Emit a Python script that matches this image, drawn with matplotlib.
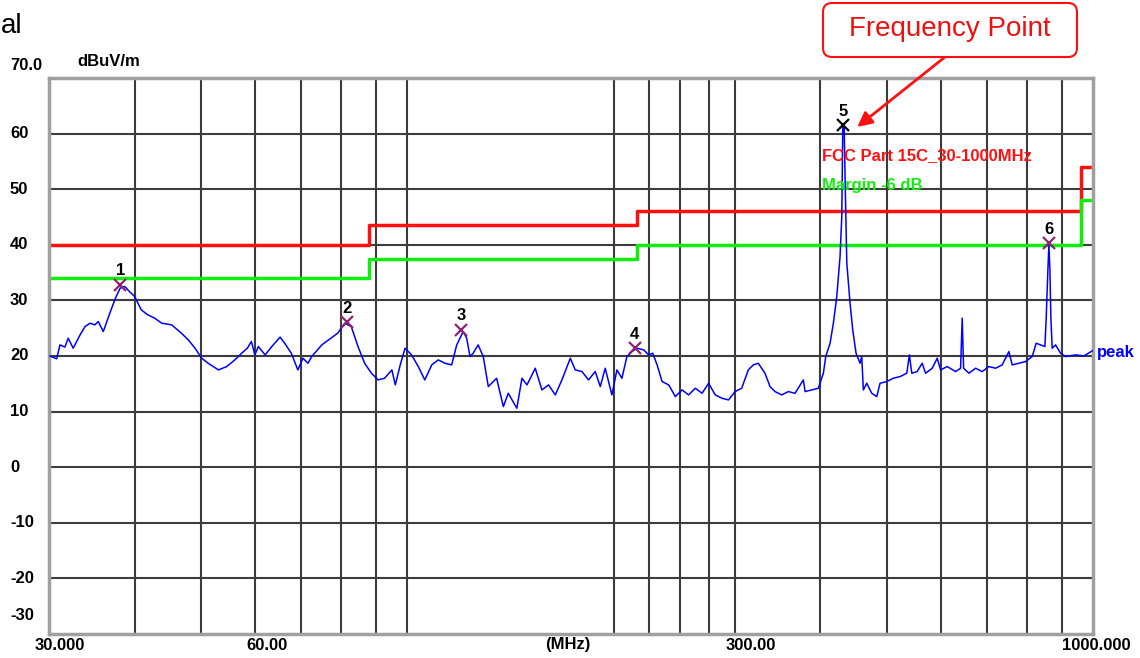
import matplotlib
matplotlib.use('Agg')
import matplotlib.pyplot as plt
import matplotlib.transforms as mtransforms
from matplotlib.patches import FancyBboxPatch

plt.rcParams['font.family'] = ['Liberation Sans', 'DejaVu Sans']

# 扫描曲线 (MHz, dBuV/m)
freq = [30.1, 30.78, 31.13, 31.65, 32.0, 32.54, 33.3, 33.86, 34.44, 35.0,
        35.4, 36.0, 36.8, 37.5, 38.1, 38.7, 39.3, 40.0, 40.9, 41.8,
        42.8, 43.8, 45.3, 46.8, 47.9, 49.0, 50.1, 51.2, 53.0, 54.5,
        56.0, 57.3, 58.4, 59.2, 59.9, 60.6, 62.0, 63.4, 65.2, 66.2,
        67.7, 69.2, 70.4, 71.6, 72.5, 75.0, 77.3, 79.1, 81.0, 82.8,
        84.7, 86.6, 88.6, 90.6, 92.6, 94.9, 96.0, 97.6, 99.2, 101.4,
        103.7, 106.0, 108.5, 110.9, 113.4, 116.0, 118.0, 120.6, 122.0, 123.4,
        124.7, 126.8, 129.0, 131.2, 134.9, 138.0, 140.3, 144.4, 146.9, 149.4,
        153.6, 157.1, 160.6, 164.3, 168.0, 172.8, 175.7, 179.7, 183.7, 187.9,
        191.1, 194.3, 198.7, 202.1, 205.5, 209.0, 212.6, 216.2, 221.1, 224.8,
        227.9, 231.3, 235.2, 240.5, 245.9, 251.5, 257.1, 263.0, 269.0, 275.0,
        281.2, 287.6, 294.0, 300.5, 307.3, 314.2, 319.5, 324.9, 332.3, 338.0,
        343.7, 351.5, 359.4, 367.6, 378.0, 380.2, 388.8, 397.5, 399.8, 404.3,
        407.5, 413.5, 418.1, 422.9, 427.6, 430.1, 431.5, 433.4, 435.3, 437.4,
        442.2, 446.2, 451.2, 457.3, 459.9, 462.4, 467.7, 475.6, 483.7, 489.1,
        500.2, 511.4, 523.1, 535.0, 539.7, 544.1, 554.0, 563.4, 569.9, 582.7,
        592.6, 599.4, 612.8, 630.3, 641.0, 644.5, 647.5, 659.2, 674.2, 689.3,
        704.9, 720.9, 737.1, 753.9, 762.3, 779.6, 797.4, 815.3, 826.3, 838.6,
        850.8, 854.5, 859.4, 862.3, 865.2, 868.1, 871.9, 881.9, 896.8, 912.0,
        943.2, 969.8, 1000.0]
level = [20.0, 19.5, 22.0, 21.6, 23.2, 21.4, 23.8, 25.3, 25.9, 25.6,
         26.2, 24.4, 27.7, 30.4, 32.2, 32.5, 31.6, 30.7, 28.3, 27.4,
         26.8, 25.9, 25.6, 24.1, 22.9, 21.4, 19.6, 18.7, 17.5, 18.1,
         19.3, 20.5, 21.4, 22.6, 20.2, 21.7, 20.2, 21.7, 23.4, 22.3,
         20.5, 17.5, 19.6, 18.7, 19.9, 22.0, 23.2, 24.1, 25.9, 25.3,
         21.7, 18.7, 16.9, 15.7, 16.0, 17.5, 14.8, 18.4, 21.4, 20.2,
         18.1, 15.7, 18.4, 19.3, 18.7, 18.4, 22.0, 24.4, 23.2, 19.9,
         20.5, 22.0, 19.9, 14.5, 16.0, 10.9, 13.3, 10.6, 16.0, 14.8,
         17.8, 13.9, 14.8, 13.0, 15.7, 19.6, 17.5, 17.2, 15.7, 17.2,
         14.5, 17.8, 13.0, 17.5, 16.0, 19.9, 20.8, 21.4, 21.1, 20.2,
         20.5, 18.4, 15.4, 14.8, 12.7, 13.9, 13.0, 14.2, 13.3, 15.1,
         13.0, 12.4, 12.1, 13.6, 14.2, 17.5, 18.4, 18.7, 16.9, 14.5,
         13.6, 13.0, 13.6, 13.3, 15.7, 13.6, 13.9, 14.2, 15.1, 16.9,
         19.9, 22.3, 25.9, 30.7, 37.9, 45.1, 61.2, 61.8, 49.3, 36.7,
         29.5, 24.7, 20.5, 18.7, 19.9, 13.9, 15.1, 13.3, 12.7, 15.1,
         15.4, 16.0, 16.3, 16.9, 20.2, 16.9, 17.2, 18.7, 16.9, 17.8,
         19.6, 17.5, 18.1, 17.2, 17.8, 26.8, 17.8, 16.9, 17.8, 17.2,
         18.1, 17.8, 18.4, 20.8, 18.4, 18.7, 19.0, 19.9, 22.3, 22.0,
         21.7, 26.8, 35.5, 40.0, 35.5, 26.8, 21.4, 22.0, 20.5, 19.9,
         20.2, 20.0, 21.0]

# 限值线 FCC Part 15C 及 -6dB 余量
limit_freq = [30, 88, 88, 216, 216, 960, 960, 1000]
limit_level = [40, 40, 43.5, 43.5, 46, 46, 54, 54]
margin_level = [34, 34, 37.5, 37.5, 40, 40, 48, 48]

# 标记点
mk_freq = [38.1, 81.6, 119.7, 214.6, 432.0, 863.0]
mk_level = [32.8, 26.1, 24.7, 21.4, 61.5, 40.3]
mk_label = ['1', '2', '3', '4', '5', '6']

grid_freq = [40, 50, 60, 70, 80, 90, 100, 200, 225, 250, 275, 300,
             400, 500, 600, 700, 800, 900]
grid_level = [-20, -10, 0, 10, 20, 30, 40, 50, 60]
y_labels = ['-20', '-10', '0', '10', '20', '30', '40', '50', '60']
x_tick_freq = [30, 60, 300, 1000]
x_tick_text = ['30.000', '60.00', '300.00', '1000.000']
x_tick_dx = [11, 12, 16, 3]

fig = plt.figure(figsize=(11.4, 6.58), dpi=100)
ax = fig.add_axes([49 / 1140, 24 / 658, 1044 / 1140, 556 / 658])
ax.set_xscale('log')
ax.set_xlim(30, 1000)
ax.set_ylim(-30, 70)
ax.set_xticks([])
ax.set_yticks([])
ax.minorticks_off()
for s in ax.spines.values():
    s.set_color('#a0a0a0')
    s.set_linewidth(2.5)

gc = '#3c3c3c'
ax.vlines(grid_freq, -30, 70, colors=gc, lw=1.5, zorder=1)
ax.hlines(grid_level, 30, 1000, colors=gc, lw=1.5, zorder=1)

ax.plot(limit_freq, limit_level, color='#ff1010', lw=2.5, zorder=2)
ax.plot(limit_freq, margin_level, color='#10ee10', lw=2.5, zorder=2)
ax.plot(freq, level, color='#0000ff', lw=1.1, zorder=3)

for f, v, t in zip(mk_freq, mk_level, mk_label):
    c = 'black' if t == '5' else '#8e2470'
    ax.plot([f], [v], marker='x', ms=8, mew=1.6, color=c, zorder=4)
    ax.annotate(t, (f, v), xytext=(0, 10), textcoords='offset points',
                ha='center', va='center', fontsize=12, fontweight='bold', zorder=5)

ax.text(402, 56.1, 'FCC Part 15C_30-1000MHz', color='#ff1010', fontsize=12,
        fontweight='bold', va='center', ha='left', zorder=5)
ax.text(402, 50.6, 'Margin -6 dB', color='#10ee10', fontsize=12,
        fontweight='bold', va='center', ha='left', zorder=5)
ax.annotate('peak', (1000, 20.6), xytext=(3, 0), textcoords='offset points',
            color='#0000ff', fontsize=12, fontweight='bold', va='center',
            ha='left', annotation_clip=False)

# 坐标文字
ytr = mtransforms.blended_transform_factory(fig.dpi_scale_trans, ax.transData)
for v, t in zip(grid_level, y_labels):
    ax.text(0.10, v, t, transform=ytr, fontsize=12, fontweight='bold',
            va='center', ha='left')
fig.text(0.10, 5.93, '70.0', transform=fig.dpi_scale_trans, fontsize=12,
         fontweight='bold', va='center', ha='left')
fig.text(0.10, 0.42, '-30', transform=fig.dpi_scale_trans, fontsize=12,
         fontweight='bold', va='center', ha='left')
fig.text(0.77, 5.96, 'dBuV/m', transform=fig.dpi_scale_trans, fontsize=12,
         fontweight='bold', va='center', ha='left')

xtr = mtransforms.blended_transform_factory(ax.transData, fig.dpi_scale_trans)
for f, t, dx in zip(x_tick_freq, x_tick_text, x_tick_dx):
    tr = mtransforms.offset_copy(xtr, fig=fig, x=dx, y=0, units='dots')
    ax.text(f, 0.13, t, transform=tr, fontsize=12, fontweight='bold',
            va='center', ha='center', clip_on=False)
ax.text(171.6, 0.13, '(MHz)', transform=xtr, fontsize=12, fontweight='bold',
        va='center', ha='center', clip_on=False)

# 左上角文字
fig.text(0.01, 6.32, 'al', transform=fig.dpi_scale_trans, fontsize=20,
         va='center', ha='left')

# Frequency Point 标注框
box = FancyBboxPatch((8.23, 6.01), 2.54, 0.54, boxstyle='round,pad=0,rounding_size=0.09',
                     transform=fig.dpi_scale_trans, fc='white', ec='#ff1010', lw=1.5)
fig.patches.append(box)
fig.text(9.50, 6.29, 'Frequency Point', transform=fig.dpi_scale_trans,
         fontsize=20, color='#ee1010', va='center', ha='center')
ax.annotate('', xy=(453, 61.2), xycoords='data',
            xytext=(9.45, 6.01), textcoords=fig.dpi_scale_trans,
            arrowprops=dict(arrowstyle='-|>', color='#ff1010', lw=2,
                            mutation_scale=22, shrinkA=0, shrinkB=0),
            annotation_clip=False)

fig.savefig('out.png', dpi=100)
